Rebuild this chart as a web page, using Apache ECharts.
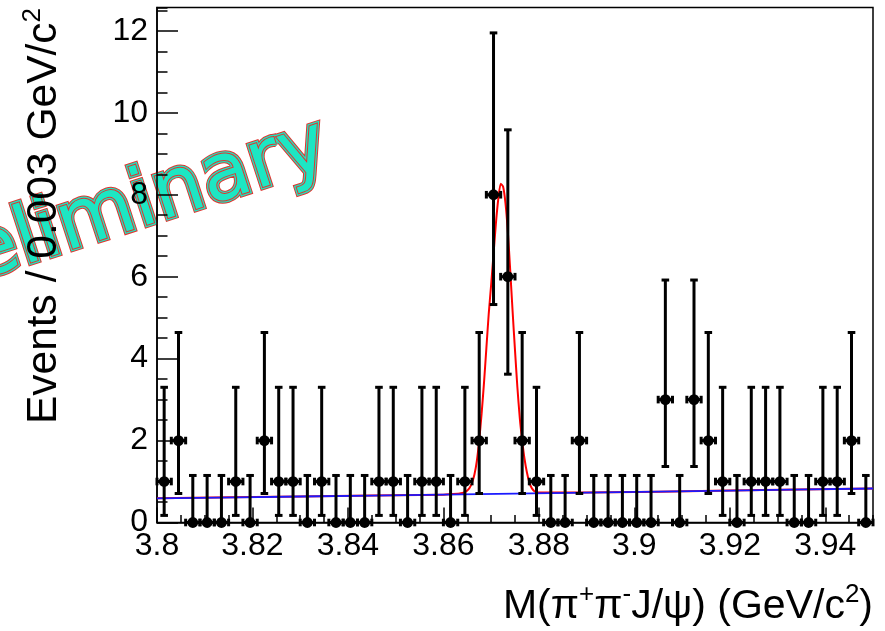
<!DOCTYPE html>
<html>
<head>
<meta charset="utf-8">
<script src="https://cdn.jsdelivr.net/npm/echarts@6/dist/echarts.min.js"></script>
<style>
  html, body { margin: 0; padding: 0; background: #ffffff; }
  #chart { width: 885px; height: 631px; }
</style>
</head>
<body>
<div id="chart"></div>
<script>
// Bin centres of the M(pi+ pi- J/psi) histogram, 0.003 GeV/c^2 bins from 3.800 to 3.950
const BIN_CENTERS = [
  3.8015, 3.8045, 3.8075, 3.8105, 3.8135, 3.8165, 3.8195, 3.8225, 3.8255, 3.8285,
  3.8315, 3.8345, 3.8375, 3.8405, 3.8435, 3.8465, 3.8495, 3.8525, 3.8555, 3.8585,
  3.8615, 3.8645, 3.8675, 3.8705, 3.8735, 3.8765, 3.8795, 3.8825, 3.8855, 3.8885,
  3.8915, 3.8945, 3.8975, 3.9005, 3.9035, 3.9065, 3.9095, 3.9125, 3.9155, 3.9185,
  3.9215, 3.9245, 3.9275, 3.9305, 3.9335, 3.9365, 3.9395, 3.9425, 3.9455, 3.9485
];
// Events per bin
const COUNTS = [
  1, 2, 0, 0, 0, 1, 0, 2, 1, 1,
  0, 1, 0, 0, 0, 1, 1, 0, 1, 1,
  0, 1, 2, 8, 6, 2, 1, 0, 0, 2,
  0, 0, 0, 0, 0, 3, 0, 3, 2, 1,
  0, 1, 1, 1, 0, 0, 1, 1, 2, 0
];
// Asymmetric Poisson interval bounds, indexed by the bin count
const POISSON_LOW  = [0.000, 0.173, 0.708, 1.367, 2.086, 2.840, 3.620, 4.419, 5.320];
const POISSON_HIGH = [1.148, 3.300, 4.638, 5.918, 7.163, 8.382, 9.584, 10.77, 11.95];
const HALF_BIN = 0.0015;

// Total fit (signal + background), red
const FIT_X = [
  3.800, 3.830, 3.860, 3.8630, 3.8635, 3.8640, 3.8645, 3.8650, 3.8655, 3.8660, 3.8665,
  3.8670, 3.8675, 3.8680, 3.8685, 3.8690, 3.8695, 3.8700, 3.8705, 3.8710, 3.8715,
  3.8720, 3.8725, 3.8730, 3.8735, 3.8740, 3.8745, 3.8750, 3.8755, 3.8760, 3.8765,
  3.8770, 3.8775, 3.8780, 3.8785, 3.8790, 3.8795, 3.8800, 3.890, 3.920, 3.950
];
const FIT_TOTAL = [
  0.59, 0.635, 0.68, 0.70, 0.71, 0.72, 0.74, 0.78, 0.85, 0.97, 1.17,
  1.50, 2.00, 2.65, 3.40, 4.25, 5.10, 5.80, 6.55, 7.30, 7.90,
  8.27, 8.20, 7.80, 7.10, 6.15, 5.15, 4.20, 3.30, 2.55, 2.00,
  1.55, 1.22, 0.98, 0.84, 0.77, 0.74, 0.73, 0.73, 0.78, 0.83
];
// Background component, blue
const BKG_X = [3.800, 3.830, 3.860, 3.890, 3.920, 3.950];
const BKG_Y = [0.59, 0.635, 0.68, 0.73, 0.78, 0.83];

// Axis tick labels
const X_TICK_LABELS = ['3.8', '3.82', '3.84', '3.86', '3.88', '3.9', '3.92', '3.94'];
const Y_TICK_LABELS = ['0', '2', '4', '6', '8', '10', '12'];

const X_MIN = 3.80, X_MAX = 3.95, X_STEP = 0.02;
const Y_MIN = 0, Y_MAX = 12.57, Y_STEP = 2;

const FONT = '"Liberation Sans", Arial, Helvetica, sans-serif';

const points = BIN_CENTERS.map((x, i) => [x, COUNTS[i], POISSON_LOW[COUNTS[i]], POISSON_HIGH[COUNTS[i]]]);

function labelFor(list, v, min, step) {
  const k = Math.round((v - min) / step);
  if (Math.abs(v - (min + k * step)) > 1e-6) return '';
  return list[k] !== undefined ? list[k] : '';
}

function renderPoint(params, api) {
  const x = api.value(0), n = api.value(1), lo = api.value(2), hi = api.value(3);
  const c = api.coord([x, n]);
  const pLo = api.coord([x, lo]);
  const pHi = api.coord([x, hi]);
  const pL = api.coord([x - HALF_BIN, n]);
  const pR = api.coord([x + HALF_BIN, n]);
  const st = { stroke: '#000', lineWidth: 3, fill: null };
  const cap = 3.8;
  return {
    type: 'group',
    children: [
      { type: 'line', shape: { x1: c[0], y1: pLo[1], x2: c[0], y2: pHi[1] }, style: st },
      { type: 'line', shape: { x1: c[0] - cap, y1: pHi[1], x2: c[0] + cap, y2: pHi[1] }, style: st },
      { type: 'line', shape: { x1: c[0] - cap, y1: pLo[1], x2: c[0] + cap, y2: pLo[1] }, style: st },
      { type: 'line', shape: { x1: pL[0], y1: c[1], x2: pR[0], y2: c[1] }, style: st },
      { type: 'line', shape: { x1: pL[0], y1: c[1] - cap, x2: pL[0], y2: c[1] + cap }, style: st },
      { type: 'line', shape: { x1: pR[0], y1: c[1] - cap, x2: pR[0], y2: c[1] + cap }, style: st },
      { type: 'circle', shape: { cx: c[0], cy: c[1], r: 5.4 }, style: { fill: '#000' } }
    ]
  };
}

// "Preliminary" stamp: layered outlines give the red/cyan striped lettering
const STAMP_FONT = '80px "DejaVu Sans", sans-serif';
function stampLayer(extra) {
  return {
    type: 'text',
    x: 0, y: -28,
    style: Object.assign({
      text: 'Preliminary',
      font: STAMP_FONT,
      align: 'left', verticalAlign: 'middle',
      textAlign: 'left', textVerticalAlign: 'middle',
      lineJoin: 'round'
    }, extra)
  };
}

const chart = echarts.init(document.getElementById('chart'), null, { renderer: 'canvas' });

const supRich = (size, supSize) => ({
  n: { fontSize: size, fontFamily: FONT, fill: '#000', lineHeight: size + 4, verticalAlign: 'bottom' },
  s: { fontSize: supSize, fontFamily: FONT, fill: '#000', lineHeight: supSize, verticalAlign: 'top' }
});

chart.setOption({
  animation: false,
  backgroundColor: '#ffffff',
  grid: {
    left: 157, right: 12, top: 7.5, bottom: 108.5,
    show: true, borderColor: '#000', borderWidth: 1.5,
    containLabel: false, outerBoundsMode: 'none'
  },
  xAxis: [
    {
      type: 'value', min: X_MIN, max: X_MAX, interval: X_STEP, position: 'bottom',
      axisLine: { show: true, onZero: false, lineStyle: { color: '#000', width: 1.5 } },
      axisTick: { show: true, inside: true, length: 15, lineStyle: { color: '#000', width: 1.5 } },
      axisLabel: {
        show: true, margin: 8, color: '#000', fontSize: 32, fontFamily: FONT,
        showMinLabel: true, showMaxLabel: false,
        formatter: v => labelFor(X_TICK_LABELS, v, X_MIN, X_STEP)
      },
      splitLine: { show: false }
    },
    {
      type: 'value', min: X_MIN, max: X_MAX, interval: 0.005, position: 'bottom', offset: 0,
      axisLine: { show: false, onZero: false },
      axisTick: { show: true, inside: true, length: 7.5, lineStyle: { color: '#000', width: 1.5 } },
      axisLabel: { show: false },
      splitLine: { show: false }
    }
  ],
  yAxis: [
    {
      type: 'value', min: Y_MIN, max: Y_MAX, interval: Y_STEP, position: 'left',
      axisLine: { show: true, onZero: false, lineStyle: { color: '#000', width: 1.5 } },
      axisTick: { show: true, inside: true, length: 21, lineStyle: { color: '#000', width: 1.5 } },
      axisLabel: {
        show: true, margin: 9, color: '#000', fontSize: 32, fontFamily: FONT,
        showMinLabel: true, showMaxLabel: false,
        formatter: v => labelFor(Y_TICK_LABELS, v, Y_MIN, Y_STEP)
      },
      splitLine: { show: false }
    },
    {
      type: 'value', min: Y_MIN, max: Y_MAX, interval: 0.5, position: 'left', offset: 0,
      axisLine: { show: false, onZero: false },
      axisTick: { show: true, inside: true, length: 10.5, lineStyle: { color: '#000', width: 1.5 } },
      axisLabel: { show: false },
      splitLine: { show: false }
    }
  ],
  series: [
    {
      name: 'Total fit', type: 'line', xAxisIndex: 0, yAxisIndex: 0,
      data: FIT_X.map((x, i) => [x, FIT_TOTAL[i]]),
      showSymbol: false, smooth: 0.2,
      lineStyle: { color: '#ff0000', width: 2.0 }, z: 2
    },
    {
      name: 'Background', type: 'line', xAxisIndex: 0, yAxisIndex: 0,
      data: BKG_X.map((x, i) => [x, BKG_Y[i]]),
      showSymbol: false, smooth: 0.3,
      lineStyle: { color: '#1a1aff', width: 1.8 }, z: 3
    },
    {
      name: 'Data', type: 'custom', xAxisIndex: 0, yAxisIndex: 0,
      data: points, renderItem: renderPoint, clip: false, z: 4
    }
  ],
  graphic: [
    {
      type: 'text', x: 873, y: 582, z: 10,
      style: {
        text: '{n|M(π}{s|+}{n|π}{s|-}{n|J/ψ) (GeV/c}{s|2}{n|)}',
        rich: supRich(41, 26),
        align: 'right', verticalAlign: 'top'
      }
    },
    {
      type: 'text', x: 43, y: 8, rotation: Math.PI / 2, z: 10,
      style: {
        text: '{n|Events / 0.003 GeV/c}{s|2}',
        rich: supRich(42.5, 26),
        align: 'right', verticalAlign: 'middle'
      }
    },
    {
      type: 'group', x: -95, y: 311, rotation: 18 * Math.PI / 180, z: 20,
      children: [
        stampLayer({ fill: null, stroke: '#e0332e', lineWidth: 6.5,
                     shadowColor: 'rgba(0,0,0,0.45)', shadowBlur: 4, shadowOffsetX: 3, shadowOffsetY: 3 }),
        stampLayer({ fill: null, stroke: '#1de6c3', lineWidth: 4.5 }),
        stampLayer({ fill: null, stroke: '#e0332e', lineWidth: 2.0 }),
        stampLayer({ fill: '#1de6c3', stroke: null, lineWidth: 0 })
      ]
    }
  ]
});
</script>
</body>
</html>
